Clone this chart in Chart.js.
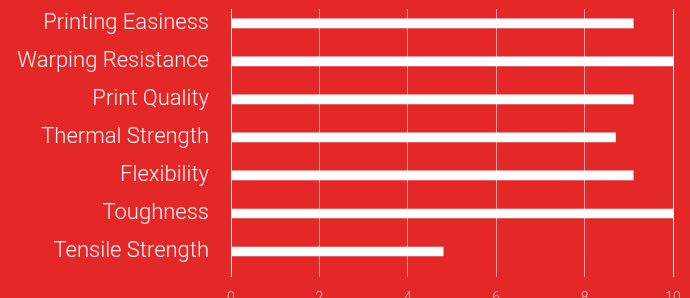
<!DOCTYPE html>
<html>
<head>
<meta charset="utf-8">
<script src="https://cdn.jsdelivr.net/npm/chart.js@4"></script>
<style>
  html, body { margin: 0; padding: 0; background: #e42727; overflow: hidden; }
  #wrap { width: 690px; height: 320px; position: relative; }
</style>
</head>
<body>
<div id="wrap"><canvas id="chart"></canvas></div>
<script>
const categories = ['Printing Easiness', 'Warping Resistance', 'Print Quality', 'Thermal Strength', 'Flexibility', 'Toughness', 'Tensile Strength'];
const scores = [9.1, 10, 9.1, 8.7, 9.1, 10, 4.8];
const xTicks = [0, 2, 4, 6, 8, 10];

const points = scores.map((v, i) => ({ x: v, y: i }));

new Chart(document.getElementById('chart'), {
    type: 'bar',
    data: {
        datasets: [{
            data: points,
            backgroundColor: '#ffffff',
            borderWidth: 0,
            barThickness: 9
        }]
    },
    options: {
        indexAxis: 'y',
        responsive: true,
        maintainAspectRatio: false,
        animation: false,
        layout: { padding: { top: 9, right: 17, left: 0, bottom: 0 } },
        plugins: { legend: { display: false }, tooltip: { enabled: false } },
        scales: {
            x: {
                type: 'linear',
                min: 0,
                max: 10,
                bounds: 'data',
                afterBuildTicks: scale => { scale.ticks = xTicks.map(v => ({ value: v })); },
                grid: {
                    drawTicks: false,
                    color: ctx => (ctx.tick && (ctx.tick.value === 0 || ctx.tick.value === 10)) ? '#ffffff' : 'rgba(255,255,255,0.55)',
                    lineWidth: 1
                },
                border: { display: false },
                ticks: {
                    color: '#f7c4c4',
                    padding: 13,
                    font: { family: 'Roboto', size: 14, weight: 300 }
                },
                afterFit: scale => {
                    scale.height = 43;
                    scale.paddingLeft = 0;
                    scale.paddingRight = 0;
                }
            },
            y: {
                type: 'linear',
                reverse: true,
                offset: false,
                min: -0.376,
                max: 6.67,
                bounds: 'data',
                afterBuildTicks: scale => { scale.ticks = categories.map((c, i) => ({ value: i })); },
                grid: { display: false, offset: false },
                border: { display: false },
                ticks: {
                    color: '#fff3f3',
                    padding: 14,
                    font: { family: 'Roboto', size: 22, weight: 300 },
                    callback: v => categories[v]
                },
                afterFit: scale => {
                    scale.width = 231;
                    scale.paddingTop = 0;
                    scale.paddingBottom = 0;
                }
            }
        }
    }
});
</script>
</body>
</html>
